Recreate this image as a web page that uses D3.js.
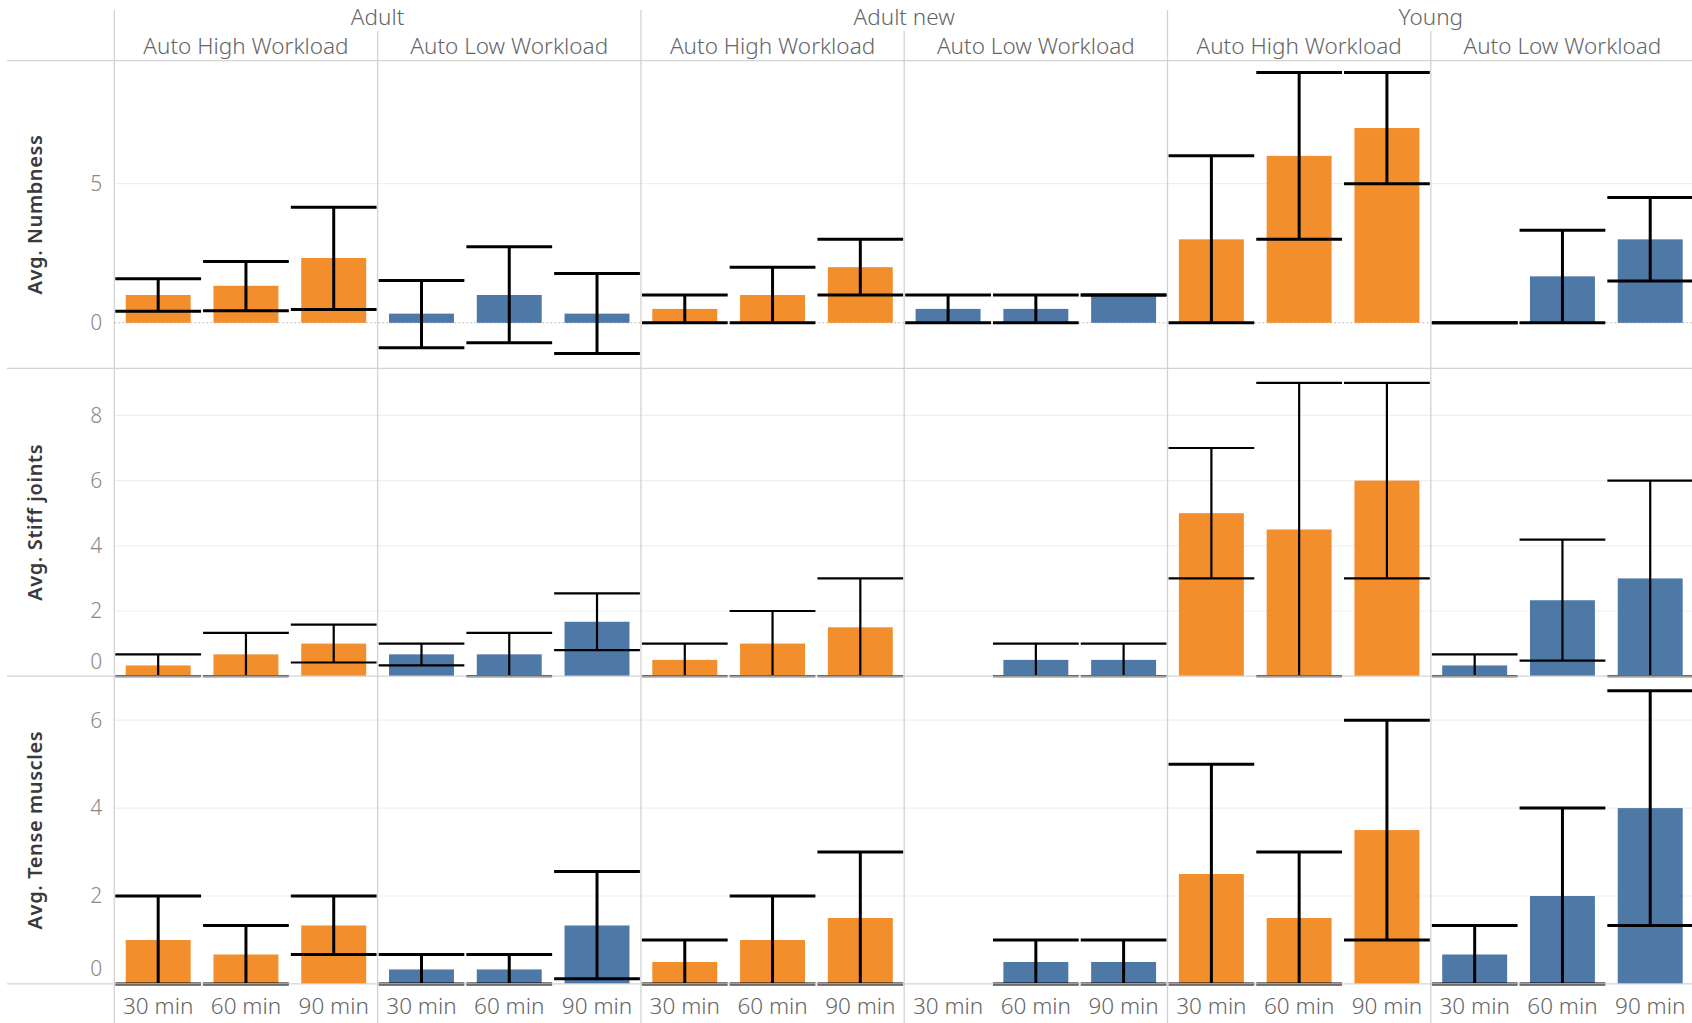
<!DOCTYPE html>
<html>
<head>
<meta charset="utf-8">
<script src="https://cdn.jsdelivr.net/npm/d3@7"></script>
<style>
	body { margin: 0; background: #fff; }
	svg { display: block; font-family: "Noto Sans", sans-serif; }
</style>
</head>
<body>
<div id="chart"></div>
<script>
var CHART_WIDTH = 1692;
var CHART_HEIGHT = 1023;

const groups = ["Adult", "Adult new", "Young"];
const workloads = ["Auto High Workload", "Auto Low Workload"];
const durations = ["30 min", "60 min", "90 min"];
const measures = ["Avg. Numbness", "Avg. Stiff joints", "Avg. Tense muscles"];

// 18 values per measure: group > workload > duration (null = no data)
const numbnessAvg  = [1.0, 1.33, 2.33, 0.33, 1.0, 0.33, 0.5, 1.0, 2.0, 0.5, 0.5, 1.0, 3.0, 6.0, 7.0, 0, 1.67, 3.0];
const numbnessLow  = [0.42, 0.43, 0.48, -0.9, -0.72, -1.1, 0, 0, 1, 0, 0, 1, 0, 3, 5, 0, 0, 1.5];
const numbnessHigh = [1.58, 2.2, 4.15, 1.52, 2.73, 1.77, 1, 2, 3, 1, 1, 1, 6, 9, 9, 0, 3.33, 4.5];

const stiffAvg  = [0.33, 0.67, 1.0, 0.67, 0.67, 1.67, 0.5, 1.0, 1.5, null, 0.5, 0.5, 5.0, 4.5, 6.0, 0.33, 2.33, 3.0];
const stiffLow  = [0, 0, 0.42, 0.33, 0, 0.8, 0, 0, 0, null, 0, 0, 3, 0, 3, 0, 0.48, 0];
const stiffHigh = [0.67, 1.33, 1.58, 1.0, 1.33, 2.54, 1, 2, 3, null, 1, 1, 7, 9, 9, 0.67, 4.19, 6];

const tenseAvg  = [1.0, 0.67, 1.33, 0.33, 0.33, 1.33, 0.5, 1.0, 1.5, null, 0.5, 0.5, 2.5, 1.5, 3.5, 0.67, 2.0, 4.0];
const tenseLow  = [0, 0, 0.67, 0, 0, 0.12, 0, 0, 0, null, 0, 0, 0, 0, 1, 0, 0, 1.33];
const tenseHigh = [2, 1.33, 2, 0.67, 0.67, 2.56, 1, 2, 3, null, 1, 1, 5, 3, 6, 1.33, 4, 6.67];

const rowDomains = [[-1.64, 9.42], [0, 9.44], [0, 7.0]];
const rowTicks = [[0, 5], [0, 2, 4, 6, 8], [0, 2, 4, 6]];

const avgs = [numbnessAvg, stiffAvg, tenseAvg];
const lows = [numbnessLow, stiffLow, tenseLow];
const highs = [numbnessHigh, stiffHigh, tenseHigh];

const colors = { "Auto High Workload": "#f28e2b", "Auto Low Workload": "#4e79a7" };

// layout
const plotLeft = 114.3;
const paneW = 263.3;
const rowTop = 60.7;
const rowH = 307.75;
const capStroke = [3, 2.2, 3];

const panes = [];
groups.forEach(g => workloads.forEach(w => panes.push({ group: g, workload: w, key: g + "|" + w })));

const records = [];
measures.forEach((m, mi) => {
	panes.forEach((p, pi) => {
		durations.forEach((d, di) => {
			const i = pi * durations.length + di;
			if (avgs[mi][i] === null) return;
			records.push({ measure: m, mi, pane: p.key, workload: p.workload, duration: d,
				avg: avgs[mi][i], lo: lows[mi][i], hi: highs[mi][i] });
		});
	});
});

const svg = d3.select("#chart").append("svg")
	.attr("width", CHART_WIDTH)
	.attr("height", CHART_HEIGHT);

const xPane = d3.scaleBand().domain(panes.map(p => p.key))
	.range([plotLeft, plotLeft + paneW * panes.length]);
const xDur = d3.scaleBand().domain(durations).range([0, xPane.bandwidth()]);
const yRow = d3.scaleBand().domain(measures).range([rowTop, rowTop + rowH * measures.length]);

const yScales = measures.map((m, i) => d3.scaleLinear()
	.domain(rowDomains[i])
	.range([yRow(m) + yRow.bandwidth(), yRow(m)]));

const bw = xDur.bandwidth();
const barW = bw * 0.74;
const xEnd = CHART_WIDTH;

// grid lines (zero is drawn separately)
measures.forEach((m, i) => {
	const y = yScales[i];
	svg.append("g").selectAll("line")
		.data(rowTicks[i].filter(t => t !== 0))
		.join("line")
		.attr("x1", plotLeft).attr("x2", xEnd)
		.attr("y1", d => y(d)).attr("y2", d => y(d))
		.attr("stroke", "#efefef").attr("stroke-width", 1.2);
});

// zero line for the numbness row
svg.append("line")
	.attr("x1", plotLeft).attr("x2", xEnd)
	.attr("y1", yScales[0](0)).attr("y2", yScales[0](0))
	.attr("stroke", "#bdbdbd").attr("stroke-width", 1)
	.attr("stroke-dasharray", "2,2");

// bars
svg.append("g").selectAll("rect")
	.data(records)
	.join("rect")
	.attr("x", d => xPane(d.pane) + xDur(d.duration) + (bw - barW) / 2)
	.attr("width", barW)
	.attr("y", d => Math.min(yScales[d.mi](d.avg), yScales[d.mi](0)))
	.attr("height", d => Math.abs(yScales[d.mi](0) - yScales[d.mi](d.avg)))
	.attr("fill", d => colors[d.workload]);

// error bars
const err = svg.append("g").selectAll("g")
	.data(records)
	.join("g")
	.attr("stroke", "#000");

err.append("line")
	.attr("x1", d => xPane(d.pane) + xDur(d.duration) + bw / 2)
	.attr("x2", d => xPane(d.pane) + xDur(d.duration) + bw / 2)
	.attr("y1", d => yScales[d.mi](d.lo))
	.attr("y2", d => yScales[d.mi](d.hi))
	.attr("stroke-width", d => capStroke[d.mi]);

["lo", "hi"].forEach(k => {
	err.append("line")
		.attr("x1", d => xPane(d.pane) + xDur(d.duration) + 1)
		.attr("x2", d => xPane(d.pane) + xDur(d.duration) + bw - 1)
		.attr("y1", d => yScales[d.mi](d[k]))
		.attr("y2", d => yScales[d.mi](d[k]))
		.attr("stroke-width", d => capStroke[d.mi]);
});

// pane borders
const borders = svg.append("g").attr("stroke", "#d3d3d3").attr("stroke-width", 1.3);
d3.range(measures.length + 1).forEach(k => {
	borders.append("line")
		.attr("x1", 7).attr("x2", xEnd)
		.attr("y1", rowTop + k * rowH).attr("y2", rowTop + k * rowH);
});
panes.forEach((p, i) => {
	const first = i % workloads.length === 0;
	borders.append("line")
		.attr("x1", xPane(p.key)).attr("x2", xPane(p.key))
		.attr("y1", first ? 10 : 31).attr("y2", CHART_HEIGHT);
});

// axis tick labels and row titles
measures.forEach((m, i) => {
	const y = yScales[i];
	const bottom = yRow(m) + yRow.bandwidth();
	svg.append("g").selectAll("text")
		.data(rowTicks[i])
		.join("text")
		.attr("x", plotLeft - 12)
		.attr("y", d => Math.min(y(d), bottom - 15))
		.attr("dy", "0.35em")
		.attr("text-anchor", "end")
		.attr("fill", "#888")
		.style("font-size", "21px")
		.style("font-weight", 300)
		.text(d => d);

	svg.append("text")
		.attr("transform", `translate(42,${yRow(m) + yRow.bandwidth() / 2}) rotate(-90)`)
		.attr("text-anchor", "middle")
		.attr("fill", "#3a3a3a")
		.style("font-size", "20px")
		.style("font-weight", 600)
		.style("letter-spacing", "0.6px")
		.text(m);
});

// headers
groups.forEach(g => {
	const x0 = xPane(g + "|" + workloads[0]);
	svg.append("text")
		.attr("x", x0 + paneW * workloads.length / 2)
		.attr("y", 17.5)
		.attr("dy", "0.35em")
		.attr("text-anchor", "middle")
		.attr("fill", "#666")
		.style("font-size", "22.5px")
		.style("font-weight", 300)
		.text(g);
});

svg.append("g").selectAll("text")
	.data(panes)
	.join("text")
	.attr("x", d => xPane(d.key) + paneW / 2)
	.attr("y", 46.5)
	.attr("dy", "0.35em")
	.attr("text-anchor", "middle")
	.attr("fill", "#666")
	.style("font-size", "22.5px")
	.style("font-weight", 300)
	.text(d => d.workload);

// x labels
panes.forEach(p => {
	svg.append("g").selectAll("text")
		.data(durations)
		.join("text")
		.attr("x", d => xPane(p.key) + xDur(d) + bw / 2)
		.attr("y", 1006.5)
		.attr("dy", "0.35em")
		.attr("text-anchor", "middle")
		.attr("fill", "#666")
		.style("font-size", "22.5px")
		.style("font-weight", 300)
		.text(d => d);
});
</script>
</body>
</html>
